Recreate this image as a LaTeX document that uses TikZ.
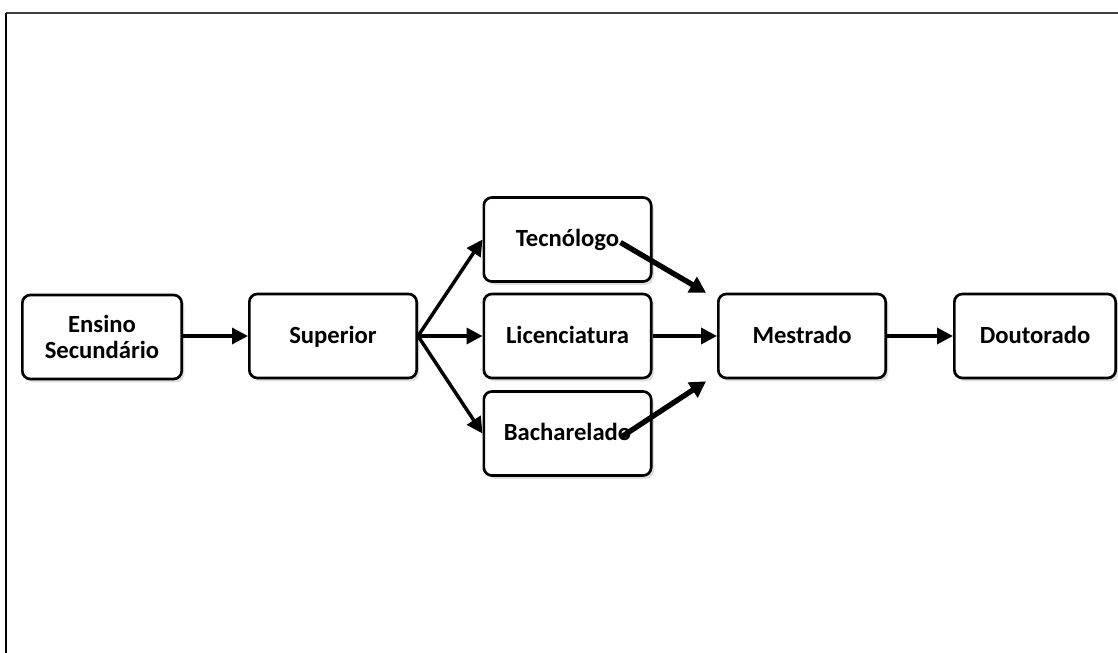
\documentclass[tikz,border=0pt]{standalone}
\usepackage{fontspec}
\setmainfont{Carlito}
\usetikzlibrary{arrows.meta,calc,shadows}

\begin{document}
\begin{tikzpicture}[x = 0.75pt, y = -0.75pt]
\tikzstyle{etapa}=[shape = rectangle, rounded corners = 6pt,
                   draw, line width = 2pt, fill = white,
                   minimum height = 63pt, minimum width = 125.5pt,
                   align = center, inner sep = 2pt,
                   text height = 14pt, text depth = 3pt,
                   font = \fontsize{18.5}{19.5}\selectfont\bfseries,
                   drop shadow = {shadow xshift = 2pt, shadow yshift = -2.5pt, opacity = 0.25}]
\tikzstyle{seta}=[line width = 2.6pt, -{Triangle[length = 12pt, width = 12pt]}]
\tikzstyle{setagrossa}=[line width = 4pt, -{Triangle[length = 12pt, width = 13pt]}]
\useasboundingbox (0,0) rectangle (1118,653);
\draw[line width = 1.5pt, black!75] (6,13) -- (1118,13);
\draw[line width = 1.5pt] (6,13) -- (6,653);
\node[etapa, minimum width = 119.5pt, text height = , text depth = ] (ens) at (102,337) {Ensino\\Secundário};
\node[etapa] (sup) at (333,336) {Superior};
\node[etapa] (tec) at (567.5,239.5) {Tecnólogo};
\node[etapa] (lic) at (567.5,336) {Licenciatura};
\node[etapa] (bac) at (567.5,433.5) {Bacharelado};
\node[etapa] (mes) at (802,336) {Mestrado};
\node[etapa, minimum width = 121pt] (dou) at (1035,336) {Doutorado};
\draw[seta] (ens.east |- sup) -- (sup);
\draw[seta] (sup.east) -- (tec.west);
\draw[seta] (sup.east) -- (lic.west);
\draw[seta] (sup.east) -- (bac.west);
\draw[seta] (lic) -- (mes);
\draw[seta] (mes) -- (dou);
\coordinate (tecfim) at ($(tec.east)+(-32,3)$);
\coordinate (mescima) at ($(mes.north west)+(-11,0)$);
\coordinate (bacfim) at ($(bac.east)+(-32,4)$);
\coordinate (mesbaixo) at ($(mes.south west)+(-11,2)$);
\draw[setagrossa] (tecfim) -- (mescima);
\draw[setagrossa] (bacfim) -- (mesbaixo);
\end{tikzpicture}
\end{document}
